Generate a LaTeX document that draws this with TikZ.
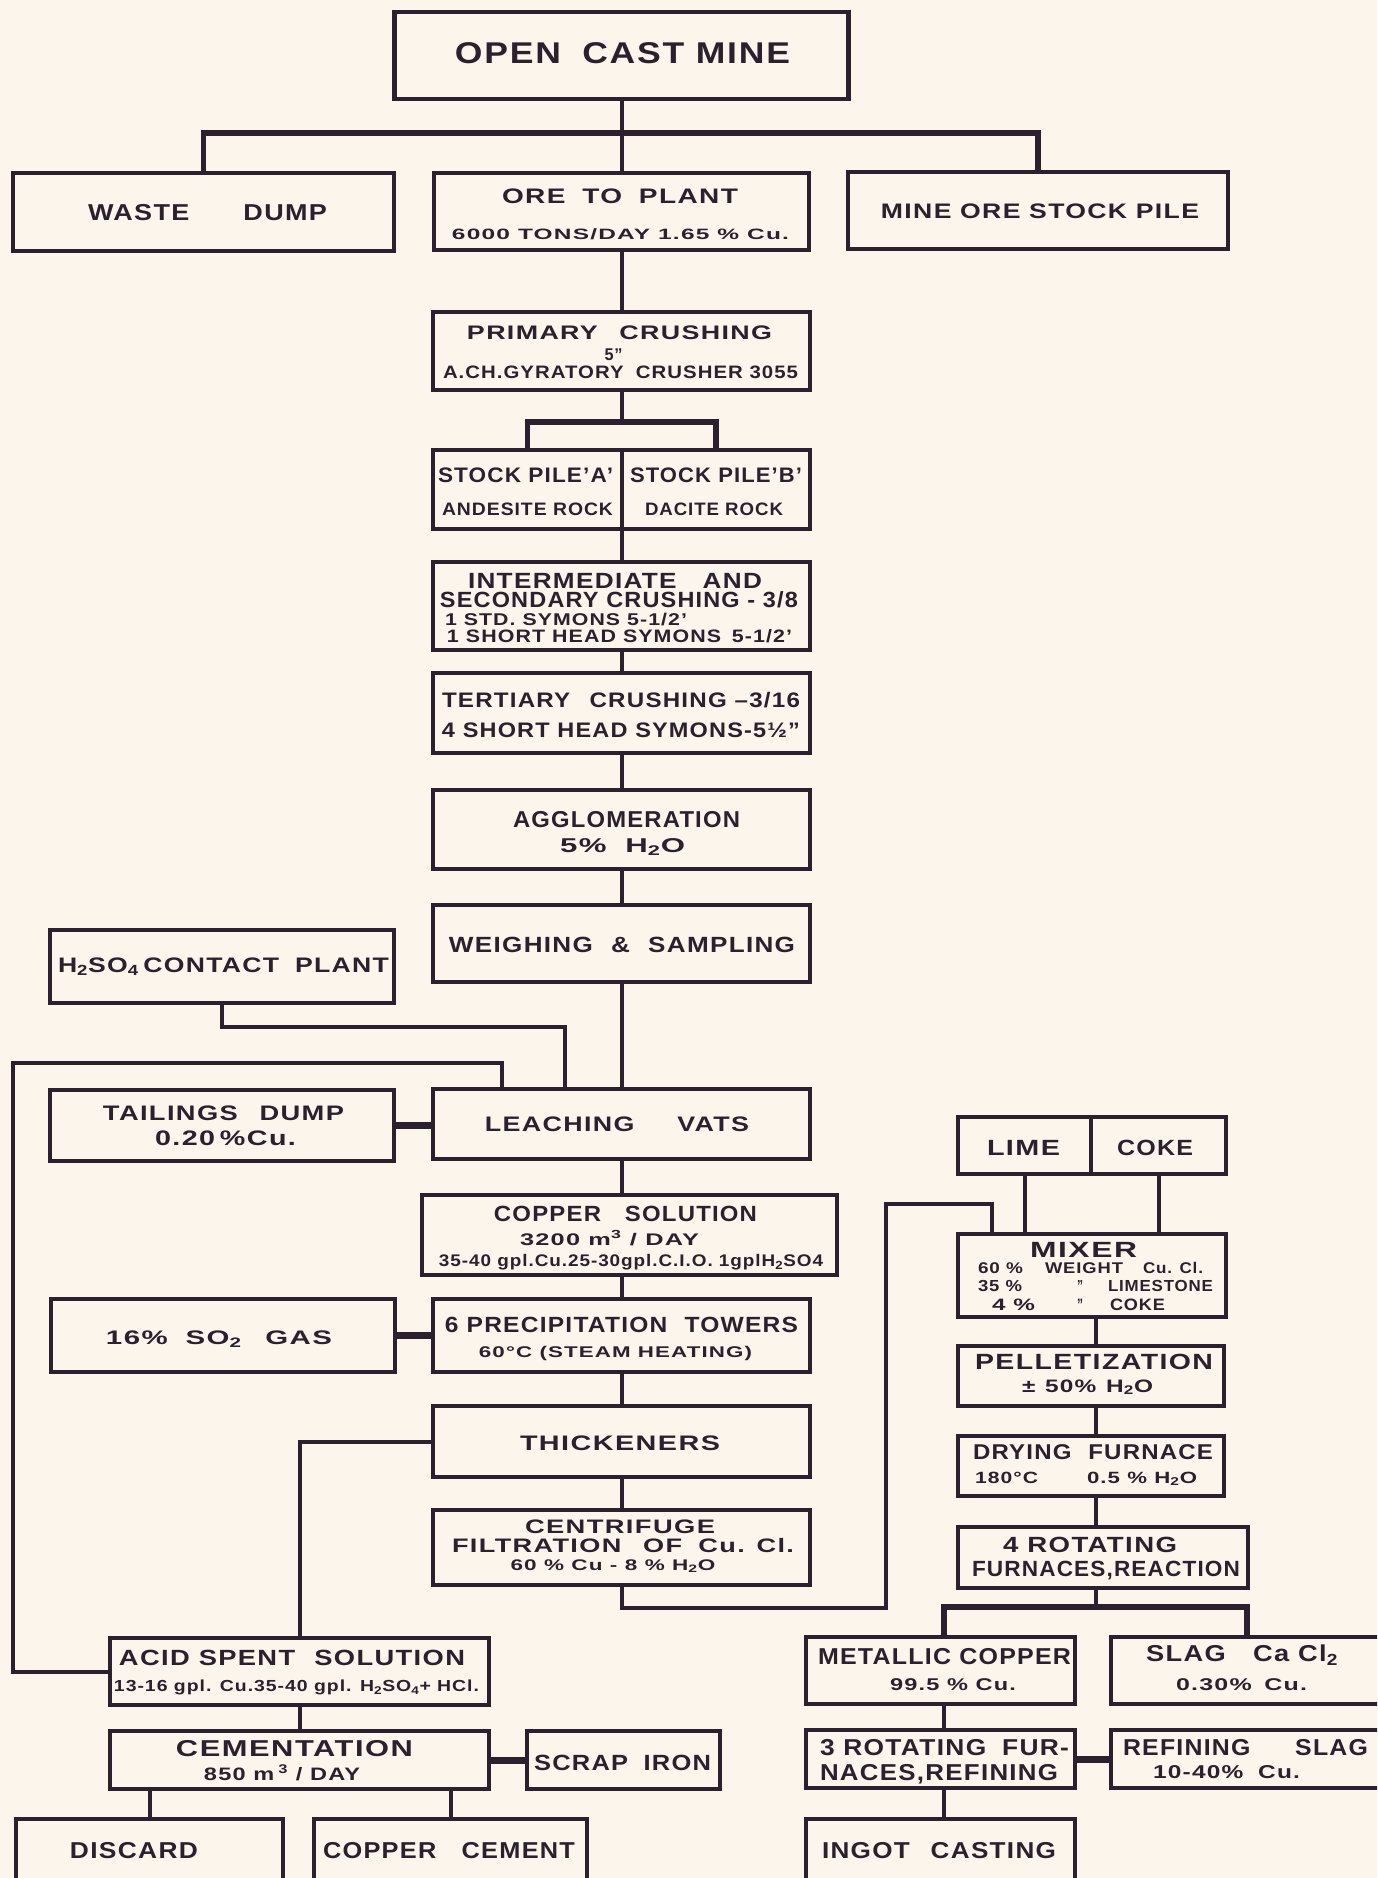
\documentclass[tikz,border=0pt]{standalone}
\usepackage{fontspec}
\setmainfont{Liberation Sans}[LetterSpace=5]
\usepackage{graphicx}
\definecolor{bg}{RGB}{252,245,236}
\definecolor{ink}{RGB}{44,32,46}
% \Ln{dx}{dy}{width}{size}{text}: one text line, dx/dy of its centre-baseline from the node centre
\newcommand\Ln[5]{\kern#1pt\hbox to 0pt{\hss\raisebox{-#2pt}[0pt][0pt]{\resizebox{#3pt}{\height}{\fontsize{#4pt}{#4pt}\selectfont\bfseries #5}}\hss}\kern-#1pt\ignorespaces}
\tikzset{
  box/.style 2 args={draw=ink, text=ink, line width=4.5pt, inner sep=0pt, outer sep=0pt,
    rectangle, minimum width=#1pt, minimum height=#2pt},
  conn/.style={draw=ink, line width=4pt},
  bar/.style={draw=ink, line width=5.5pt},
  link/.style={draw=ink, line width=7pt},
}
\begin{document}
\begin{tikzpicture}[x=1pt,y=-1pt]
\useasboundingbox (0,0) rectangle (1377,1878);
\fill[bg] (0,0) rectangle (1377,1878);
\clip (0,0) rectangle (1377,1878);

% ---------- main column ----------
\node[box={454}{87}] (ocm) at (621.5,55.5) {\Ln{1}{7.8}{335}{30}{OPEN\hspace{0.6em}CAST MINE}};
\node[box={381}{78}] (waste) at (203.5,212) {\Ln{4}{8.7}{239}{23}{WASTE\hspace{2em}DUMP}};
\node[box={375}{77}] (ore) at (621.5,211.5) {\Ln{-1.5}{-8.2}{236}{21}{ORE\hspace{0.6em}TO\hspace{0.6em}PLANT}\Ln{-1}{27.8}{337}{15}{6000 TONS/DAY 1.65 \% Cu.}};
\node[box={380}{77}] (mine) at (1038,210.5) {\Ln{2}{8.5}{318}{21}{MINE ORE STOCK PILE}};
\node[box={377}{78}] (pc) at (621.5,351) {\Ln{-2}{-12}{305}{19.6}{PRIMARY\hspace{0.8em}CRUSHING}\Ln{-8}{9.5}{18}{17}{5''}\Ln{-1}{27}{355}{18}{A.CH.GYRATORY\hspace{0.6em}CRUSHER 3055}};
\node[box={189}{79}] (spa) at (527.5,489.5) {\Ln{-2}{-7.5}{175}{21}{STOCK PILE'A'}\Ln{0}{25.5}{171}{18}{ANDESITE ROCK}};
\node[box={188}{79}] (spb) at (716,489.5) {\Ln{0}{-7.5}{172}{21}{STOCK PILE'B'}\Ln{-2}{25.5}{138}{18}{DACITE ROCK}};
\node[box={377}{88}] (int) at (621.5,606) {\Ln{-6.5}{-18}{294}{22}{INTERMEDIATE\hspace{1em}AND}\Ln{-2.5}{1}{358}{22}{SECONDARY CRUSHING - 3/8}\Ln{-55.5}{19}{242}{17}{1 STD. SYMONS 5-1/2'}\Ln{-2}{36}{345}{18}{1 SHORT HEAD SYMONS\hspace{0.5em}5-1/2'}};
\node[box={377}{80}] (ter) at (621.5,713) {\Ln{-0.5}{-6}{358}{21}{TERTIARY\hspace{0.8em}CRUSHING --3/16}\Ln{-0.5}{24}{358}{21}{4 SHORT HEAD SYMONS-5½''}};
\node[box={377}{79}] (agg) at (621.5,829.5) {\Ln{5}{-2.5}{227}{23}{AGGLOMERATION}\Ln{1}{23}{125}{20}{5\%\hspace{0.6em}H\textsubscript{2}O}};
\node[box={377}{77}] (ws) at (621.5,943.5) {\Ln{0.5}{8.5}{346}{22}{WEIGHING\hspace{0.7em}\&\hspace{0.7em}SAMPLING}};
\node[box={344}{73}] (h2so4) at (222,966.5) {\Ln{1.5}{5.5}{331}{21}{H\textsubscript{2}SO\textsubscript{4}\,CONTACT\hspace{0.6em}PLANT}};
\node[box={344}{71}] (tail) at (222,1125.5) {\Ln{1.5}{-5.5}{241}{21}{TAILINGS\hspace{0.8em}DUMP}\Ln{3.5}{19.5}{141}{21}{0.20\,\%Cu.}};
\node[box={377}{70}] (leach) at (621.5,1124) {\Ln{-4.5}{7.7}{264}{21}{LEACHING\hspace{1.6em}VATS}};
\node[box={415}{80}] (cusol) at (629.5,1235) {\Ln{-4}{-14}{263}{22}{COPPER\hspace{1em}SOLUTION}\Ln{-20}{10}{179}{16.8}{3200 m\textsuperscript{3} / DAY}\Ln{1.5}{31.5}{384}{16.8}{35-40 gpl.Cu.25-30gpl.C.I.O. 1gplH\textsubscript{2}SO4}};
\node[box={344}{73}] (so2) at (223,1335.5) {\Ln{-4}{8.5}{226}{19.6}{16\%\hspace{0.6em}SO\textsubscript{2}\hspace{0.8em}GAS}};
\node[box={377}{73}] (prec) at (621.5,1335.5) {\Ln{0}{-3}{353}{22}{6 PRECIPITATION\hspace{0.7em}TOWERS}\Ln{-6}{21.5}{273}{15.5}{60°C (STEAM HEATING)}};
\node[box={377}{71}] (thick) at (621.5,1441.5) {\Ln{-1.5}{8.5}{200}{21}{THICKENERS}};
\node[box={377}{75}] (cent) at (621.5,1547.5) {\Ln{-1.5}{-14.5}{190}{19.5}{CENTRIFUGE}\Ln{1.5}{4.5}{342}{19.5}{FILTRATION\hspace{0.8em}OF\hspace{0.6em}Cu. Cl.}\Ln{-8.5}{22.5}{205}{15.4}{60 \% Cu - 8 \% H\textsubscript{2}O}};
\node[box={379}{67}] (acid) at (299.5,1671.5) {\Ln{-7.5}{-6.5}{346}{22}{ACID SPENT\hspace{0.7em}SOLUTION}\Ln{-3}{20}{365}{16}{13-16 gpl. Cu.35-40 gpl. H\textsubscript{2}SO\textsubscript{4}+ HCl.}};
\node[box={379}{58}] (cem) at (299.5,1760) {\Ln{-5}{-3.5}{237}{23}{CEMENTATION}\Ln{-17.5}{20}{156}{18}{850 m\,\textsuperscript{3} / DAY}};
\node[box={193}{58}] (scrap) at (623.5,1760) {\Ln{-1}{10}{177}{22}{SCRAP\hspace{0.6em}IRON}};
\node[box={267}{66}] (discard) at (149.5,1852) {\Ln{-15.5}{6}{128}{23}{DISCARD}};
\node[box={273}{66}] (copcem) at (450.5,1852) {\Ln{-1.5}{6}{252}{23}{COPPER\hspace{1em}CEMENT}};

% ---------- right column ----------
\node[box={133}{57}] (lime) at (1024.5,1145.5) {\Ln{-1}{9.5}{73}{22}{LIME}};
\node[box={135}{57}] (coke) at (1158.5,1145.5) {\Ln{-3.5}{9.5}{76}{22}{COKE}};
\node[box={268}{83}] (mixer) at (1092,1275.5) {\Ln{-8.5}{-18.5}{107}{22}{MIXER}%
  \Ln{-91.5}{-2}{45}{15.5}{60 \%}\Ln{-8}{-2}{78}{15.5}{WEIGHT}\Ln{81}{-2}{60}{15.5}{Cu. Cl.}%
  \Ln{-92}{16}{44}{16}{35 \%}\Ln{-12}{16}{6}{16}{''}\Ln{68.5}{16}{105}{16}{LIMESTONE}%
  \Ln{-78.5}{35}{43}{16.5}{4 \%}\Ln{-12}{35}{6}{16.5}{''}\Ln{45.5}{35}{55}{16.5}{COKE}};
\node[box={266}{60}] (pell) at (1091,1376) {\Ln{3}{-7}{238}{22}{PELLETIZATION}\Ln{-3.5}{16}{131}{18}{±\hspace{0.4em}50\%\hspace{0.4em}H\textsubscript{2}O}};
\node[box={266}{60}] (dry) at (1091,1466) {\Ln{2}{-6.7}{240}{21.4}{DRYING\hspace{0.7em}FURNACE}\Ln{-84.5}{17.3}{63}{16.3}{180°C}\Ln{51}{17.3}{110}{16.3}{0.5 \% H\textsubscript{2}O}};
\node[box={290}{61}] (rot4) at (1103,1557.5) {\Ln{-13}{-5}{174}{22}{4 ROTATING}\Ln{3}{18.5}{268}{22}{FURNACES,REACTION}};
\node[box={269}{67}] (metcu) at (940.5,1670.5) {\Ln{4}{-6.5}{253}{23}{METALLIC COPPER}\Ln{12.5}{20}{126}{17}{99.5 \% Cu.}};
\node[box={279}{67}] (slag) at (1250.5,1670.5) {\Ln{-8.5}{-9}{192}{23}{SLAG\hspace{1em}Ca Cl\textsubscript{2}}\Ln{-9}{20}{131}{17}{0.30\%\hspace{0.5em}Cu.}};
\node[box={269}{58}] (rot3) at (940.5,1759) {\Ln{4}{-4}{249}{23}{3 ROTATING\hspace{0.6em}FUR-}\Ln{-1.5}{21}{238}{23}{NACES,REFINING}};
\node[box={279}{58}] (refslag) at (1250.5,1759) {\Ln{-5}{-4}{245}{23}{REFINING\hspace{1.8em}SLAG}\Ln{-24}{19}{147}{18.6}{10-40\%\hspace{0.6em}Cu.}};
\node[box={269}{66}] (ingot) at (940.5,1852) {\Ln{-1.5}{6}{234}{23}{INGOT\hspace{0.8em}CASTING}};

% ---------- connectors ----------
\coordinate (b1) at (621.5,133);
\draw[conn] (ocm.south) -- (b1);
\draw[bar] (waste.north) |- (b1) -| (mine.north);
\draw[conn] (b1) -- (ore.north);
\draw[conn] (ore) -- (pc);
\coordinate (b2) at (621.5,422);
\draw[conn] (pc) -- (b2);
\draw[bar] (spa.north) |- (b2) -| (spb.north);
\draw[conn] (spa.south east) -- (spa.south east |- int.north);
\draw[conn] (int) -- (ter);
\draw[conn] (ter) -- (agg);
\draw[conn] (agg) -- (ws);
\draw[conn] (ws) -- (leach);
\draw[conn] (leach.south) -- (leach.south |- cusol.north);
\draw[conn] (prec.north |- cusol.south) -- (prec.north);
\draw[conn] (prec) -- (thick);
\draw[conn] (thick) -- (cent);
\coordinate (hb) at (565,1027);
\draw[conn] (h2so4.south) |- (hb) -- (hb |- leach.north);
\coordinate (la) at (13,1063);
\coordinate (lb) at (502,1063);
\draw[conn] (acid.west) -| (la) -- (lb) -- (lb |- leach.north);
\draw[link] (tail.east) -- (tail.east -| leach.west);
\draw[link] (so2) -- (prec);
\draw[conn] (thick.west) -| (acid.north);
\draw[conn] (acid) -- (cem);
\draw[link] (cem) -- (scrap);
\draw[conn] (cem.south -| discard.north) -- (discard.north);
\draw[conn] (cem.south -| copcem.north) -- (copcem.north);
\coordinate (c1) at (886,1608);
\coordinate (c3) at (992,1204);
\draw[conn] (cent.south) |- (c1) |- (c3) -- (c3 |- mixer.north);
\draw[conn] (lime.south) -- (lime.south |- mixer.north);
\draw[conn] (coke.south) -- (coke.south |- mixer.north);
\coordinate (rx) at (1096,0);
\draw[conn] (mixer.south -| rx) -- (pell.north -| rx);
\draw[conn] (pell.south -| rx) -- (dry.north -| rx);
\draw[conn] (dry.south -| rx) -- (rot4.north -| rx);
\coordinate (b3) at (1096,1607);
\coordinate (b3l) at (944,1607);
\coordinate (b3r) at (1247,1607);
\draw[conn] (rot4.south -| b3) -- (b3);
\draw[bar] (b3l |- metcu.north) -- (b3l) -- (b3r) -- (b3r |- slag.north);
\draw[conn] (metcu.south -| b3l) -- (rot3.north -| b3l);
\draw[conn] (rot3.south -| b3l) -- (ingot.north -| b3l);
\draw[link] (rot3) -- (refslag);
\end{tikzpicture}
\end{document}
